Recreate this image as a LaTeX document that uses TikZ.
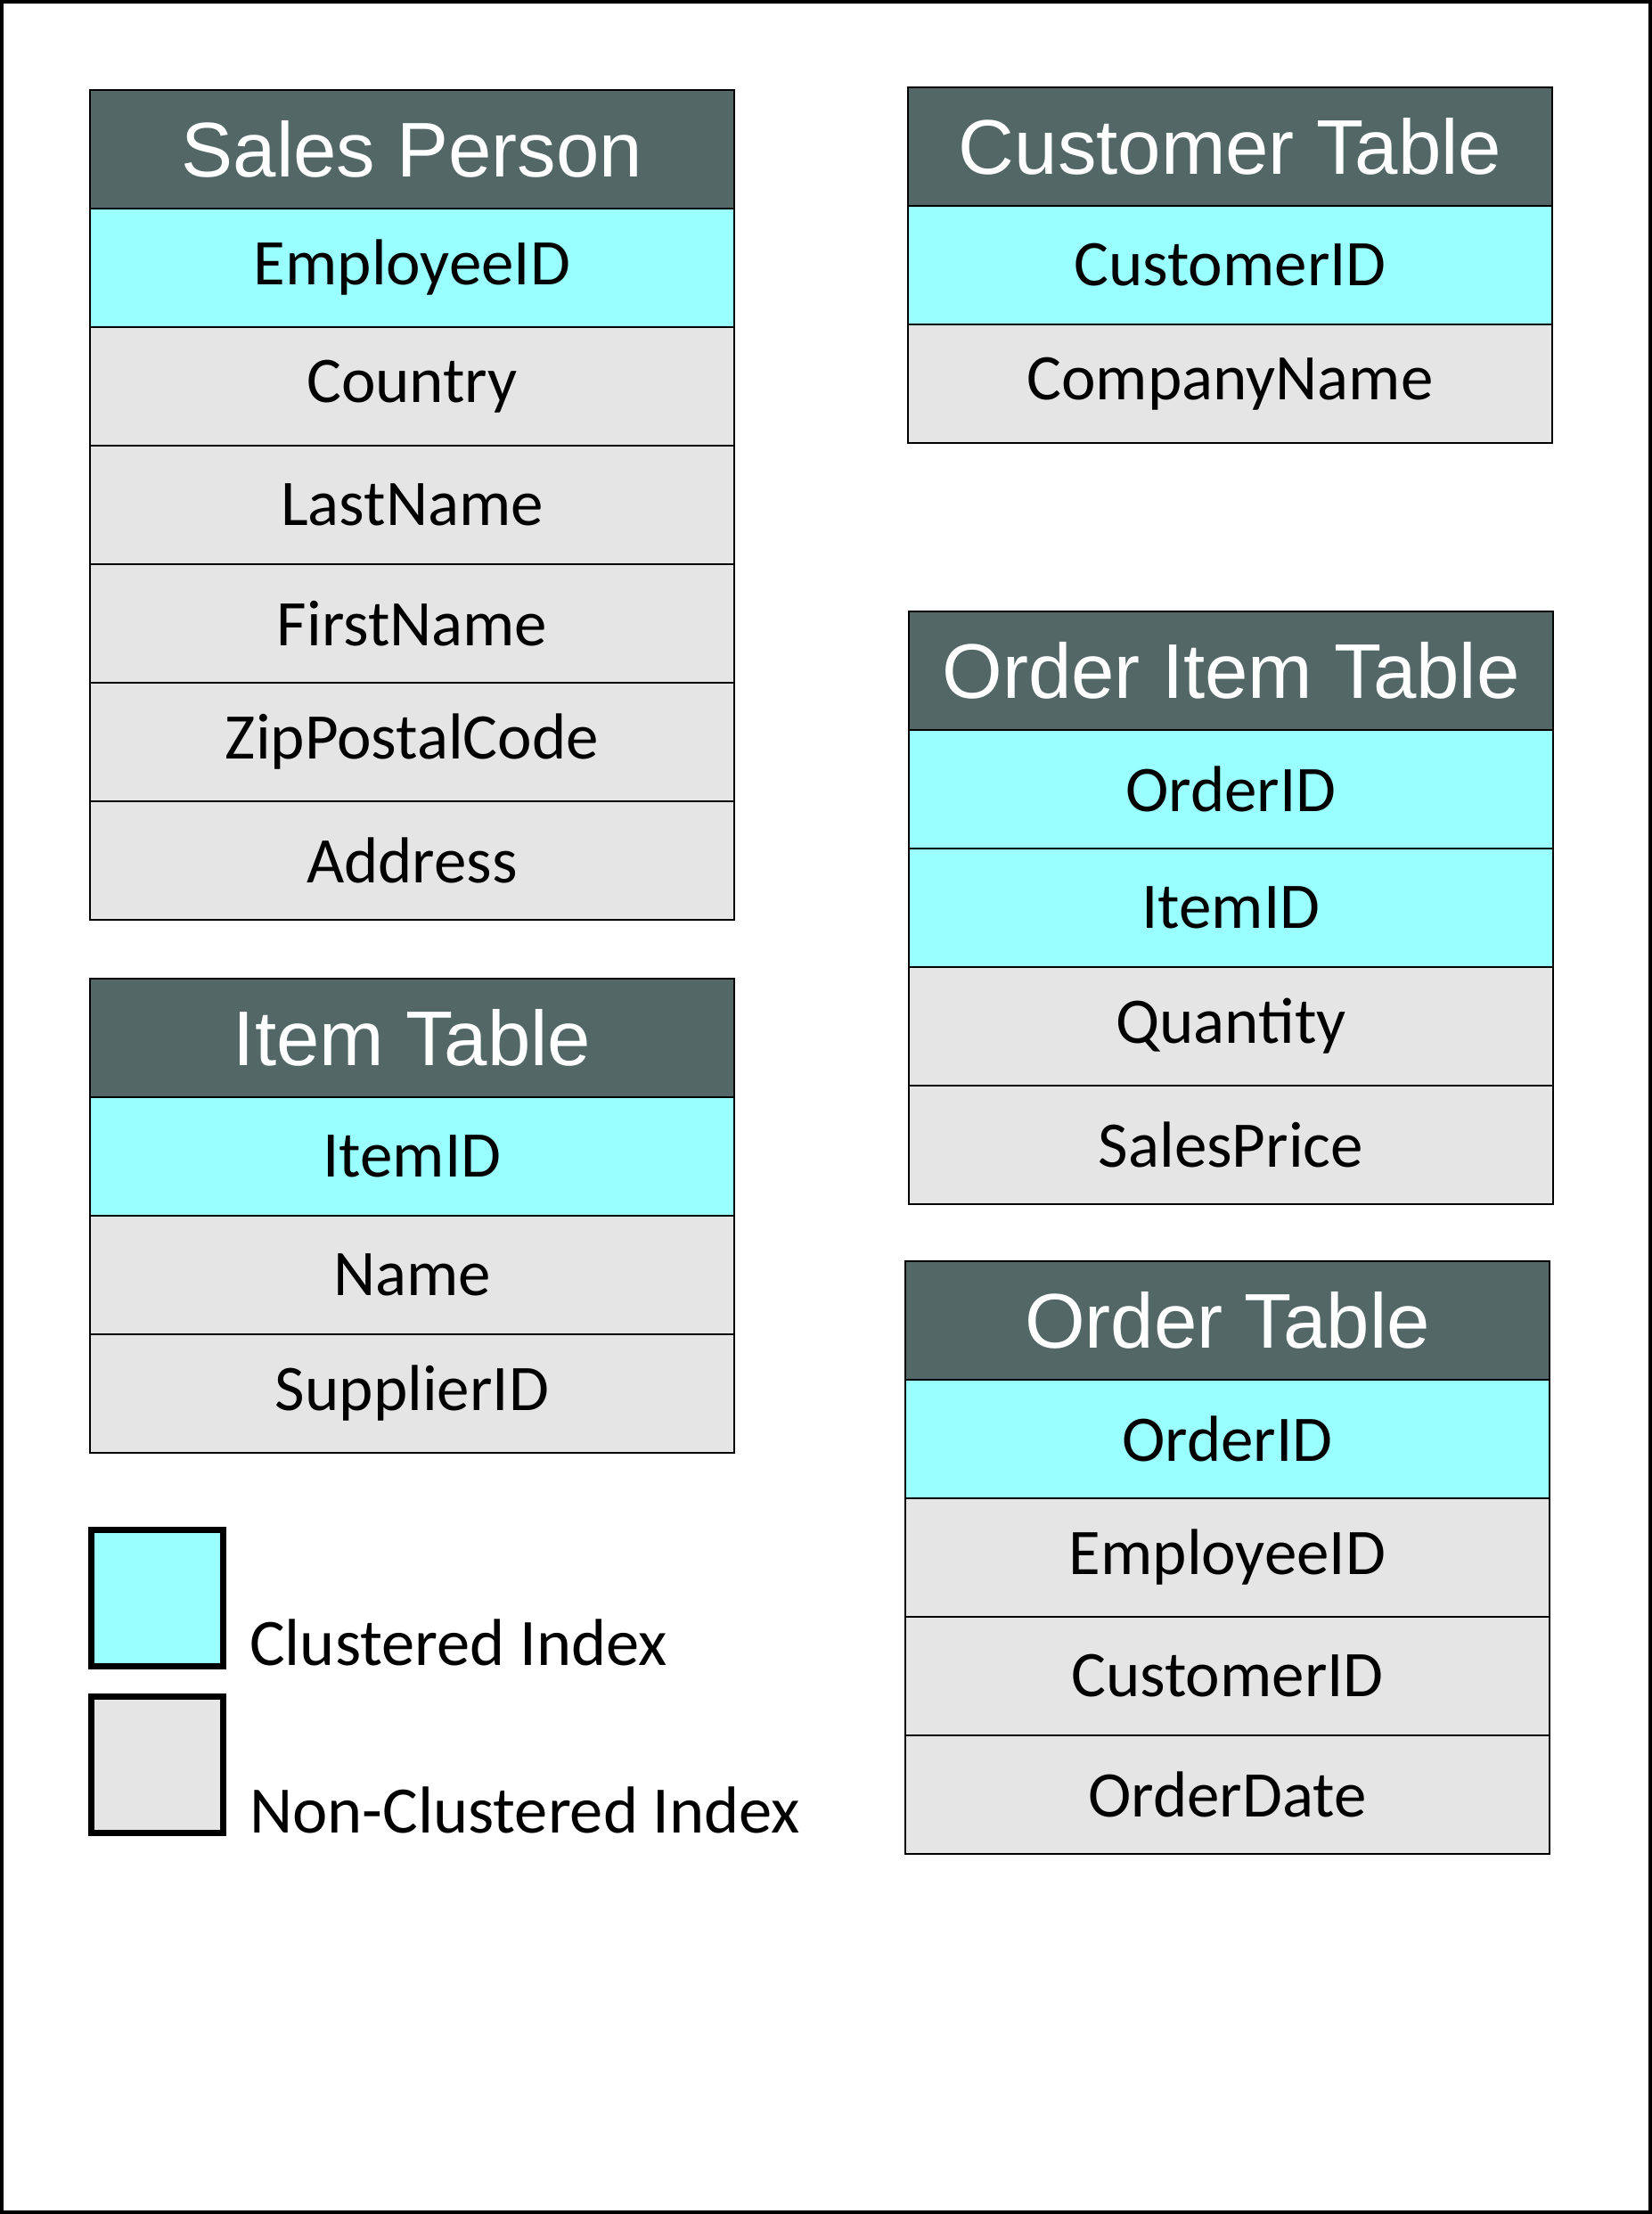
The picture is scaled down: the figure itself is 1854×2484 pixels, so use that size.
\documentclass[tikz,border=0pt]{standalone}
\usepackage{fontspec}
\setmainfont{Carlito}
\newfontfamily\hfont{Liberation Sans}
\definecolor{hdrcol}{RGB}{82,103,102}
\definecolor{keycol}{RGB}{153,255,255}
\definecolor{rowcol}{RGB}{229,229,229}
\begin{document}
\begin{tikzpicture}[x=1pt,y=-1pt,
  cell/.style={draw, line width=2.5pt, minimum width=723pt, minimum height=133pt,
    anchor=north west, inner sep=0pt, outer sep=0pt},
  hdr/.style={cell, fill=hdrcol, text=white, font=\hfont\fontsize{87}{87}\selectfont},
  keyrow/.style={cell, fill=keycol, font=\fontsize{73}{73}\selectfont},
  plainrow/.style={cell, fill=rowcol, font=\fontsize{73}{73}\selectfont},
  legbox/.style={draw, line width=7pt, minimum width=148pt, minimum height=153pt,
    anchor=north west, inner sep=0pt, outer sep=0pt},
  legtext/.style={anchor=base west, inner sep=0pt, font=\fontsize{74.5}{74.5}\selectfont}]
\useasboundingbox (0,0) rectangle (1854,2484);
\draw[line width=4pt] (2,2) rectangle (1852,2482);
% Sales Person
\node[hdr] (sp) at (101,101) {Sales Person};
\node[keyrow] (sp1) at (101,234) {EmployeeID};
\node[plainrow] (sp2) at (101,367) {Country};
\node[plainrow] (sp3) at (101,500) {LastName};
\node[plainrow] (sp4) at (101,633) {FirstName};
\node[plainrow] (sp5) at (101,766) {ZipPostalCode};
\node[plainrow] (sp6) at (101,899) {Address};
% Item Table
\node[hdr] (it) at (101,1098) {Item Table};
\node[keyrow] (it1) at (101,1231) {ItemID};
\node[plainrow] (it2) at (101,1364) {Name};
\node[plainrow] (it3) at (101,1497) {SupplierID};
% Customer Table
\node[hdr] (ct) at (1019,98) {Customer Table};
\node[keyrow] (ct1) at (1019,231) {CustomerID};
\node[plainrow] (ct2) at (1019,364) {CompanyName};
% Order Item Table
\node[hdr] (oi) at (1020,686) {Order Item Table};
\node[keyrow] (oi1) at (1020,819) {OrderID};
\node[keyrow] (oi2) at (1020,952) {ItemID};
\node[plainrow] (oi3) at (1020,1085) {Quantity};
\node[plainrow] (oi4) at (1020,1218) {SalesPrice};
% Order Table
\node[hdr] (ot) at (1016,1415) {Order Table};
\node[keyrow] (ot1) at (1016,1548) {OrderID};
\node[plainrow] (ot2) at (1016,1681) {EmployeeID};
\node[plainrow] (ot3) at (1016,1814) {CustomerID};
\node[plainrow] (ot4) at (1016,1947) {OrderDate};
% Legend
\node[legbox, fill=keycol] (lg1) at (102,1716) {};
\node[legbox, fill=rowcol] (lg2) at (102,1903) {};
\node[legtext] (lt1) at (280,1868) {Clustered Index};
\node[legtext] (lt2) at (280,2056) {Non-Clustered Index};
\end{tikzpicture}
\end{document}
